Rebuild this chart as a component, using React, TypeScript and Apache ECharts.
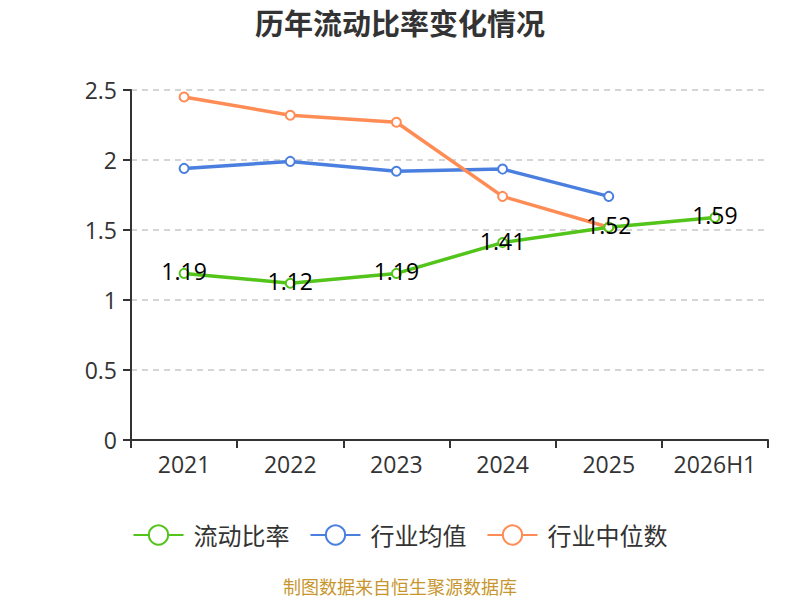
import React, { useEffect, useRef } from "react";
import * as echarts from "echarts";

const categories = ["2021", "2022", "2023", "2024", "2025", "2026H1"];
const currentRatio = [1.19, 1.12, 1.19, 1.41, 1.52, 1.59];
const industryAvg = [1.94, 1.99, 1.92, 1.935, 1.74, null];
const industryMedian = [2.45, 2.32, 2.27, 1.74, 1.52, null];

export default function App() {
  const ref = useRef<HTMLDivElement>(null);
  useEffect(() => {
    document.body.style.margin = "0";
    const chart = echarts.init(ref.current!, null, { renderer: "svg" });
    const font = "'Open Sans', 'Noto Sans CJK SC', sans-serif";
    chart.setOption({
      animation: false,
      textStyle: { fontFamily: font },
      title: {
        text: "历年流动比率变化情况",
        left: "center",
        top: 4,
        textStyle: { fontSize: 29, fontWeight: "bold", color: "#333", fontFamily: font },
      },
      grid: { left: 131, right: 32, top: 90, bottom: 160 },
      legend: {
        top: 518,
        left: "center",
        itemWidth: 50,
        itemHeight: 24,
        itemGap: 20,
        itemStyle: { borderWidth: 2 },
        textStyle: { fontSize: 24, color: "#333", padding: [0, 0, 0, 5] },
        data: ["流动比率", "行业均值", "行业中位数"],
      },
      graphic: [
        {
          type: "text",
          left: "center",
          top: 578,
          style: { text: "制图数据来自恒生聚源数据库", fill: "#c8962e", fontSize: 18, fontFamily: font },
        },
      ],
      xAxis: {
        type: "category",
        data: categories,
        boundaryGap: true,
        axisLine: { lineStyle: { color: "#333", width: 2 } },
        axisTick: { show: true, interval: 0, length: 8, lineStyle: { color: "#333", width: 2 } },
        axisLabel: { interval: 0, fontSize: 23, color: "#333", margin: 12 },
      },
      yAxis: {
        type: "value",
        min: 0,
        max: 2.5,
        interval: 0.5,
        axisLine: { show: true, lineStyle: { color: "#333", width: 2 } },
        axisTick: { show: true, length: 8, lineStyle: { color: "#333", width: 2 } },
        axisLabel: { fontSize: 23, color: "#333", margin: 14 },
        splitLine: { lineStyle: { type: [6, 5], color: "#c8c8c8", width: 1.5 } },
      },
      series: [
        {
          name: "流动比率",
          type: "line",
          data: currentRatio,
          symbol: "emptyCircle",
          symbolSize: 9,
          lineStyle: { width: 3.5, color: "#52c41a" },
          itemStyle: { color: "#52c41a", borderWidth: 2 },
          label: { show: true, position: "inside", offset: [0, -2], fontSize: 23, color: "#000" },
          z: 3,
        },
        {
          name: "行业均值",
          type: "line",
          data: industryAvg,
          symbol: "emptyCircle",
          symbolSize: 9,
          lineStyle: { width: 3.5, color: "#4a7fe0" },
          itemStyle: { color: "#4a7fe0", borderWidth: 2 },
          z: 2,
        },
        {
          name: "行业中位数",
          type: "line",
          data: industryMedian,
          symbol: "emptyCircle",
          symbolSize: 9,
          lineStyle: { width: 3.5, color: "#ff8c55" },
          itemStyle: { color: "#ff8c55", borderWidth: 2 },
          z: 2,
        },
      ],
    });
    return () => chart.dispose();
  }, []);
  return <div ref={ref} style={{ width: 800, height: 600 }} />;
}
